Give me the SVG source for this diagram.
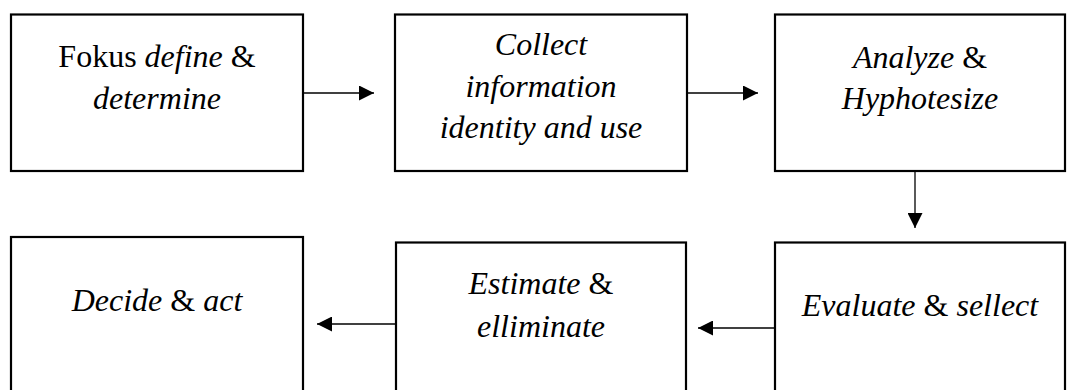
<svg xmlns="http://www.w3.org/2000/svg" width="1067" height="390" viewBox="0 0 1067 390">
<style>
.box{fill:#fff;stroke:#000;stroke-width:2.2}
.t{font-family:'Liberation Serif',serif;font-size:32px;fill:#000;text-anchor:middle}
.i{font-style:italic}
.c{stroke:#000;stroke-width:1.3;fill:none}
</style>
<defs>
<marker id="ah" markerWidth="15" markerHeight="15" refX="15" refY="7.5" orient="auto" markerUnits="userSpaceOnUse">
<path d="M0,0 L15,7.5 L0,15 Z" fill="#000"/>
</marker>
</defs>
<rect width="1067" height="390" fill="#fff"/>
<g id="n1">
<rect class="box" x="11" y="14.5" width="292" height="156.5"/>
<text class="t" x="157" y="67">Fokus <tspan class="i">define</tspan> &amp;</text>
<text class="t i" x="157" y="109">determine</text>
</g>
<g id="n2">
<rect class="box" x="395" y="14.5" width="292" height="156.5"/>
<text class="t i" x="541" y="55">Collect</text>
<text class="t i" x="541" y="97">information</text>
<text class="t i" x="541" y="138">identity and use</text>
</g>
<g id="n3">
<rect class="box" x="775" y="14.5" width="290" height="156.5"/>
<text class="t" x="920" y="68"><tspan class="i">Analyze</tspan> &amp;</text>
<text class="t i" x="920" y="109">Hyphotesize</text>
</g>
<g id="n4">
<rect class="box" x="11" y="237" width="292" height="170"/>
<text class="t" x="157" y="311"><tspan class="i">Decide</tspan> &amp; <tspan class="i">act</tspan></text>
</g>
<g id="n5">
<rect class="box" x="396" y="242.5" width="290" height="170"/>
<text class="t" x="541" y="294"><tspan class="i">Estimate</tspan> &amp;</text>
<text class="t i" x="541" y="337">elliminate</text>
</g>
<g id="n6">
<rect class="box" x="775" y="242.5" width="290" height="170"/>
<text class="t" x="920" y="316"><tspan class="i">Evaluate</tspan> &amp; <tspan class="i">sellect</tspan></text>
</g>
<g id="connectors">
<line class="c" x1="304" y1="93" x2="374" y2="93" marker-end="url(#ah)"/>
<line class="c" x1="688" y1="93" x2="758" y2="93" marker-end="url(#ah)"/>
<line class="c" x1="915" y1="172" x2="915" y2="228" marker-end="url(#ah)"/>
<line class="c" x1="774" y1="328" x2="698" y2="328" marker-end="url(#ah)"/>
<line class="c" x1="395" y1="324" x2="317" y2="324" marker-end="url(#ah)"/>
</g>
</svg>
